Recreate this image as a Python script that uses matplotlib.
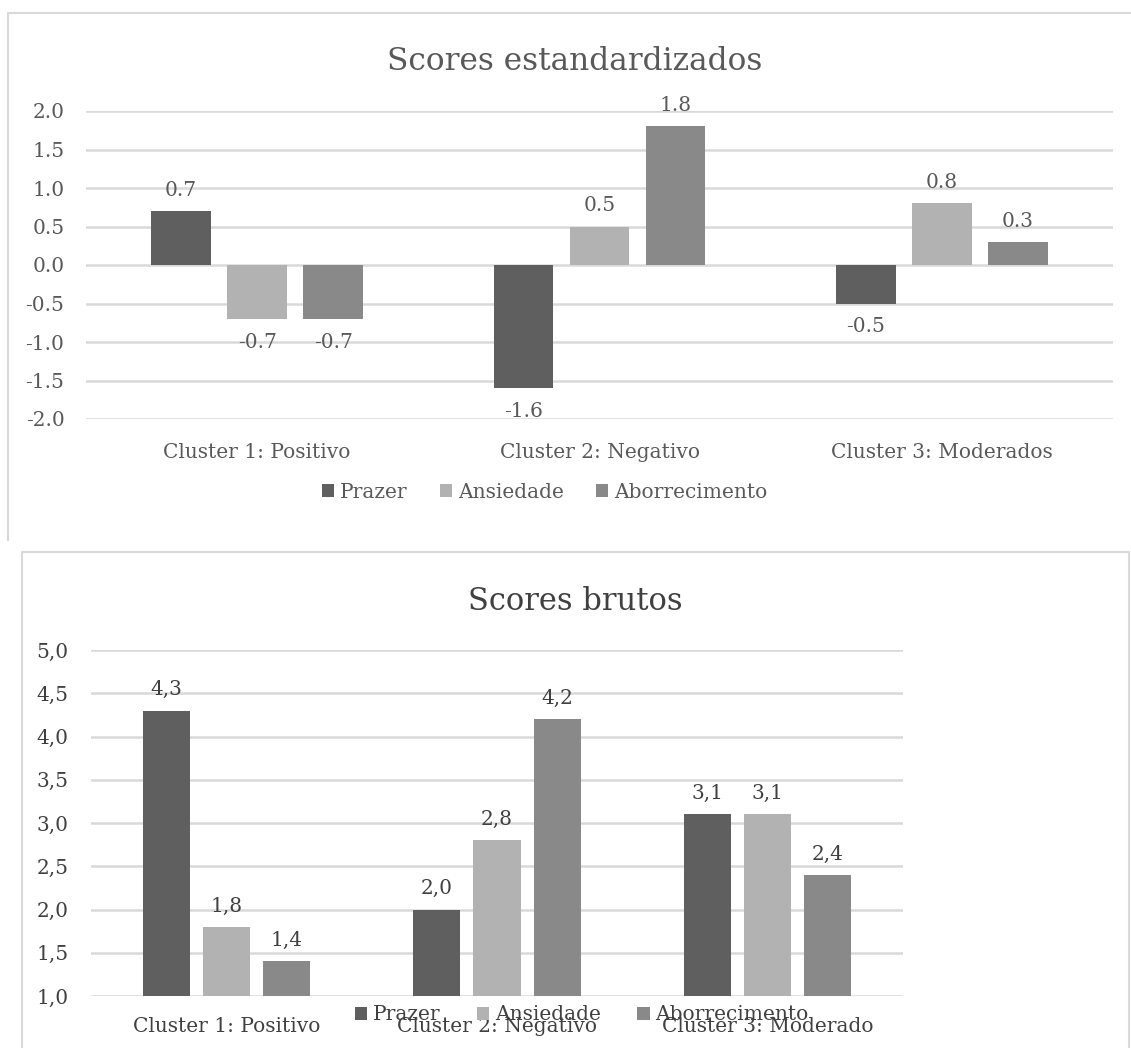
import matplotlib.pyplot as plt
from matplotlib.lines import Line2D
import numpy as np

# Figure size in pixels (dpi 100)
W, H = 1131, 1048

series = ["Prazer", "Ansiedade", "Aborrecimento"]
colors = ["#5f5f5f", "#b2b2b2", "#898989"]

# Standardized scores per cluster
clusters_std = ["Cluster 1: Positivo", "Cluster 2: Negativo", "Cluster 3: Moderados"]
prazer_std = [0.7, -1.6, -0.5]
ansiedade_std = [-0.7, 0.5, 0.8]
aborrecimento_std = [-0.7, 1.8, 0.3]
std_ticks = [-2.0, -1.5, -1.0, -0.5, 0.0, 0.5, 1.0, 1.5, 2.0]

# Raw scores per cluster
clusters_raw = ["Cluster 1: Positivo", "Cluster 2: Negativo", "Cluster 3: Moderado"]
prazer_raw = [4.3, 2.0, 3.1]
ansiedade_raw = [1.8, 2.8, 3.1]
aborrecimento_raw = [1.4, 4.2, 2.4]
raw_ticks = [1.0, 1.5, 2.0, 2.5, 3.0, 3.5, 4.0, 4.5, 5.0]

plt.rcParams['font.family'] = ['DejaVu Serif']

fig = plt.figure(figsize=(W / 100, H / 100), dpi=100)


def px_axes(left, top, right, bottom):
    # axes placed by pixel edges
    return fig.add_axes([left / W, 1 - bottom / H, (right - left) / W, (bottom - top) / H])


def px_line(xs, ys):
    fig.add_artist(Line2D([x / W for x in xs], [1 - y / H for y in ys],
                          transform=fig.transFigure, color="#d9d9d9", lw=1.5))


def draw_chart(ax, cats, data, ticks, sep, txt, xpad, ypad):
    x = np.arange(len(cats))
    width = 0.174
    offsets = [-0.222, 0, 0.222]
    bars = []
    for vals, off, col, name in zip(data, offsets, colors, series):
        b = ax.bar(x + off, vals, width, color=col, label=name, zorder=2)
        bars.append(b)
        for xi, v in zip(x + off, vals):
            s = f"{v:.1f}".replace(".", sep)
            if v >= 0:
                ax.annotate(s, (xi, v), xytext=(0, 11), textcoords="offset points",
                            ha="center", va="baseline", fontsize=14.5, color=txt)
            else:
                ax.annotate(s, (xi, v), xytext=(0, -10), textcoords="offset points",
                            ha="center", va="top", fontsize=14.5, color=txt)
    ax.set_xlim(-0.5, len(cats) - 0.5)
    ax.set_ylim(ticks[0], ticks[-1])
    ax.set_yticks(ticks)
    ax.set_yticklabels([f"{t:.1f}".replace(".", sep) for t in ticks])
    ax.set_xticks(x)
    ax.set_xticklabels(cats)
    ax.grid(axis="y", color="#d9d9d9", lw=1.8)
    ax.set_axisbelow(True)
    for sp in ax.spines.values():
        sp.set_visible(False)
    ax.tick_params(axis="both", length=0, labelsize=14.5, labelcolor=txt)
    ax.tick_params(axis="x", pad=xpad)
    ax.tick_params(axis="y", pad=ypad)
    return bars


# Top chart: standardized scores
top_txt = "#595959"
ax1 = px_axes(86, 111, 1113, 419)
bars1 = draw_chart(ax1, clusters_std, [prazer_std, ansiedade_std, aborrecimento_std],
                   std_ticks, ".", top_txt, 17, 15.5)
fig.text(575 / W, 1 - 70 / H, "Scores estandardizados", ha="center", va="baseline",
         fontsize=22.5, color=top_txt)
fig.legend(handles=bars1, loc="center", bbox_to_anchor=(545 / W, 1 - 492 / H),
           ncol=3, frameon=False, fontsize=14.5, labelcolor=top_txt,
           handlelength=0.6, handleheight=0.6, handletextpad=0.3, columnspacing=1.6)
px_line([8, 8, W], [540, 13, 13])

# Bottom chart: raw scores
bot_txt = "#404040"
ax2 = px_axes(91, 650, 903, 996)
bars2 = draw_chart(ax2, clusters_raw, [prazer_raw, ansiedade_raw, aborrecimento_raw],
                   raw_ticks, ",", bot_txt, 15, 16)
fig.text(575 / W, 1 - 610 / H, "Scores brutos", ha="center", va="baseline",
         fontsize=22, color=bot_txt)
fig.legend(handles=bars2, loc="center", bbox_to_anchor=(582 / W, 1 - 1015 / H),
           ncol=3, frameon=False, fontsize=14.5, labelcolor=bot_txt,
           handlelength=0.6, handleheight=0.6, handletextpad=0.3, columnspacing=1.8)
px_line([22, 22, 1129, 1129], [H, 552, 552, H])

fig.savefig("out.png", dpi=100)
